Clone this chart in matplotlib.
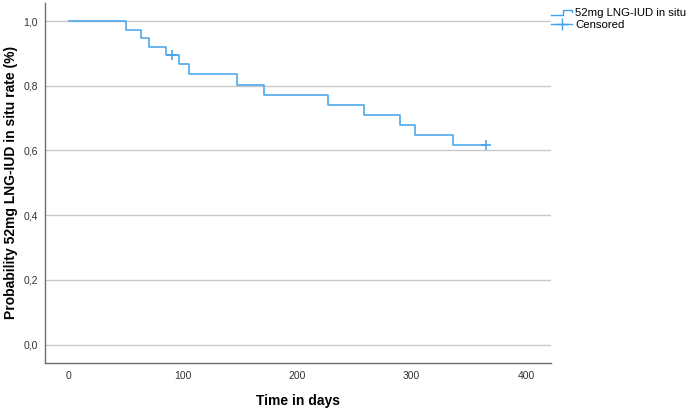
import matplotlib
matplotlib.use("Agg")
import matplotlib.pyplot as plt
from matplotlib.lines import Line2D
from matplotlib.legend_handler import HandlerBase
from matplotlib.ticker import FuncFormatter

plt.rcParams["font.family"] = ["Liberation Sans", "DejaVu Sans"]

# Kaplan-Meier curve
times = [0, 50, 63, 70, 85, 96, 105, 147, 171, 227, 258, 290, 303, 336, 365]
survival = [1.0, 0.974, 0.947, 0.921, 0.895, 0.866, 0.836, 0.804, 0.773,
            0.742, 0.711, 0.680, 0.649, 0.618, 0.618]
censored_times = [90, 365]
censored_surv = [0.895, 0.618]

y_ticks = [0.0, 0.2, 0.4, 0.6, 0.8, 1.0]
x_ticks = [0, 100, 200, 300, 400]

BLUE = "#3fa3ec"


class StepHandler(HandlerBase):
    """Legend icon in the shape of a small step."""

    def create_artists(self, legend, orig_handle, xdescent, ydescent,
                       width, height, fontsize, trans):
        x0, x1 = -xdescent, -xdescent + width
        xm = x0 + width * 0.55
        ylo = -ydescent + height * 0.2
        yhi = -ydescent + height * 0.85
        line = Line2D([x0, xm, xm, x1, x1], [ylo, ylo, yhi, yhi, yhi - height * 0.3],
                      color=BLUE, lw=1.0, transform=trans)
        return [line]


fig = plt.figure(figsize=(6.9, 4.09), dpi=100)
ax = fig.add_axes([0.0652, 0.1132, 0.7334, 0.8795])

ax.step(times, survival, where="post", color=BLUE, lw=1.1)
ax.plot(censored_times, censored_surv, "+", color=BLUE, ms=7, mew=1.1)

ax.set_xlim(-21, 422)
ax.set_ylim(-0.056, 1.056)
ax.set_xticks(x_ticks)
ax.set_yticks(y_ticks)
ax.yaxis.set_major_formatter(FuncFormatter(lambda v, _: f"{v:.1f}".replace(".", ",")))
ax.tick_params(length=0, labelsize=7.5, colors="#333333")
ax.tick_params(axis="x", pad=6)
ax.tick_params(axis="y", pad=5)

ax.grid(axis="y", color="#c8c8c8", lw=1.0)
ax.set_axisbelow(True)
for side in ("top", "right"):
    ax.spines[side].set_visible(False)
for side in ("left", "bottom"):
    ax.spines[side].set_color("#6e6e6e")
    ax.spines[side].set_linewidth(1.0)

ax.set_xlabel("Time in days", fontsize=10, fontweight="bold", labelpad=9)
ax.set_ylabel("Probability 52mg LNG-IUD in situ rate (%)", fontsize=10,
              fontweight="bold", labelpad=4)

step_handle = Line2D([], [], color=BLUE)
cens_handle = Line2D([], [], color=BLUE, marker="+", ms=9, lw=1.0)
fig.legend([step_handle, cens_handle], ["52mg LNG-IUD in situ", "Censored"],
           handler_map={step_handle: StepHandler()},
           loc="upper left", bbox_to_anchor=(0.795, 0.985), frameon=False,
           fontsize=8.2, handlelength=1.9, handletextpad=0.25, labelspacing=0.15,
           borderpad=0.2, borderaxespad=0)

fig.savefig("out.png", dpi=100)
